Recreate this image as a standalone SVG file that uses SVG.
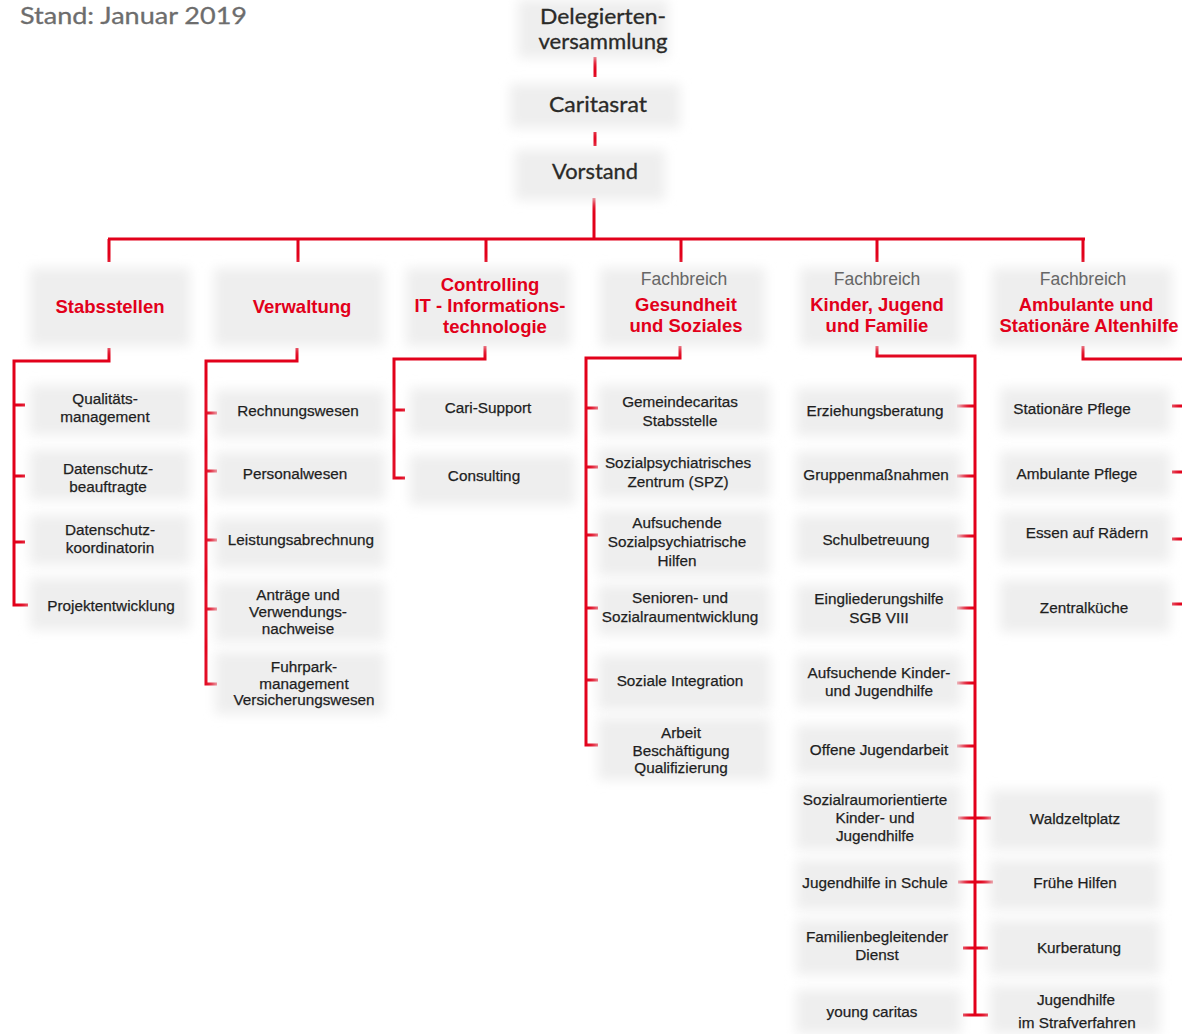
<svg xmlns="http://www.w3.org/2000/svg" width="1182" height="1034" viewBox="0 0 1182 1034">
<defs>
<filter id="blur" x="-20%" y="-40%" width="140%" height="180%"><feGaussianBlur stdDeviation="6"/></filter>
<style>
.bx{fill:#eeeeee;filter:url(#blur)}
.t{font-family:"Liberation Sans",Arial,sans-serif;font-size:15.3px;fill:#1e1e1e;stroke:#1e1e1e;stroke-width:0.25;text-anchor:middle}
.h{font-family:"Liberation Sans",Arial,sans-serif;font-size:18.5px;font-weight:bold;fill:#e2001a;text-anchor:middle}
.f{font-family:"Liberation Sans",Arial,sans-serif;font-size:17.5px;fill:#666;text-anchor:middle}
.top{font-family:Lato,"Open Sans",sans-serif;font-size:21px;fill:#2a2a28;stroke:#2a2a28;stroke-width:0.3;text-anchor:middle}
.ln{fill:none;stroke:#e2001a;stroke-width:3}
</style>
</defs>
<rect width="1182" height="1034" fill="#fff"/>
<text x="20" y="24" font-family="Lato,'Open Sans',sans-serif" font-size="24" fill="#6d6d6d" stroke="#6d6d6d" stroke-width="0.3" textLength="227" lengthAdjust="spacingAndGlyphs">Stand: Januar 2019</text>

<g id="connectors" class="ln">
<path d="M595,57V77M595,132V146M594,198V239M108,239H1085M109,239V262M298,239V262M486,239V262M681,239V262M877,239V262M1083,239V262"/>
<path d="M109,348V361H14V605H28M14,405H25M14,476H25M14,542H25"/>
<path d="M297,348V361H206V684H217M206,413H217M206,471H217M206,540H217M206,609H217"/>
<path d="M485,346V359H394V478H405M394,410H405"/>
<path d="M680,346V358H586V745H598M586,408H598M586,467H598M586,535H598M586,608H598M586,680H598"/>
<path d="M877,346V356H975V1015M957,406H975M957,476H975M957,536H975M957,608H975M957,683H975M957,746H975M958,818H991M958,882H993M963,948H988M963,1015H988"/>
<path d="M1083,346V359H1184M1172,406H1184M1172,472H1184M1172,539H1184M1172,604H1184"/>
</g>

<g id="delegiertenversammlung"><rect class="bx" x="518" y="0" width="150" height="58"/><text class="top" x="603" y="24" textLength="126" lengthAdjust="spacingAndGlyphs">Delegierten-</text><text class="top" x="603" y="49" textLength="129" lengthAdjust="spacingAndGlyphs">versammlung</text></g>
<g id="caritasrat"><rect class="bx" x="510" y="84" width="170" height="44"/><text class="top" x="598" y="112" textLength="98" lengthAdjust="spacingAndGlyphs">Caritasrat</text></g>
<g id="vorstand"><rect class="bx" x="515" y="150" width="150" height="50"/><text class="top" x="595" y="179" textLength="86" lengthAdjust="spacingAndGlyphs">Vorstand</text></g>

<g id="stabsstellen"><rect class="bx" x="30" y="268" width="160" height="78"/><text class="h" x="110" y="313">Stabsstellen</text></g>
<g id="verwaltung"><rect class="bx" x="214" y="268" width="170" height="78"/><text class="h" x="302" y="313">Verwaltung</text></g>
<g id="controlling"><rect class="bx" x="406" y="268" width="165" height="78"/><text class="h" x="490" y="291">Controlling</text><text class="h" x="490" y="312">IT - Informations-</text><text class="h" x="495" y="333">technologie</text></g>
<g id="gesundheit"><rect class="bx" x="600" y="268" width="165" height="78"/><text class="f" x="684" y="285">Fachbreich</text><text class="h" x="686" y="311">Gesundheit</text><text class="h" x="686" y="332">und Soziales</text></g>
<g id="kinder"><rect class="bx" x="800" y="268" width="160" height="78"/><text class="f" x="877" y="285">Fachbreich</text><text class="h" x="877" y="311">Kinder, Jugend</text><text class="h" x="877" y="332">und Familie</text></g>
<g id="altenhilfe"><rect class="bx" x="992" y="268" width="180" height="78"/><text class="f" x="1083" y="285">Fachbreich</text><text class="h" x="1086" y="311">Ambulante und</text><text class="h" x="1089" y="332">Stationäre Altenhilfe</text></g>

<g id="qualitaet"><rect class="bx" x="30" y="385" width="160" height="50"/><text class="t" x="105" y="404">Qualitäts-</text><text class="t" x="105" y="422">management</text></g>
<g id="dsb"><rect class="bx" x="30" y="450" width="160" height="50"/><text class="t" x="108" y="474">Datenschutz-</text><text class="t" x="108" y="492">beauftragte</text></g>
<g id="dsk"><rect class="bx" x="30" y="515" width="160" height="50"/><text class="t" x="110" y="535">Datenschutz-</text><text class="t" x="110" y="553">koordinatorin</text></g>
<g id="projekt"><rect class="bx" x="30" y="578" width="160" height="52"/><text class="t" x="111" y="611">Projektentwicklung</text></g>

<g id="rechnung"><rect class="bx" x="215" y="390" width="170" height="48"/><text class="t" x="298" y="416">Rechnungswesen</text></g>
<g id="personal"><rect class="bx" x="215" y="452" width="170" height="48"/><text class="t" x="295" y="479">Personalwesen</text></g>
<g id="leistung"><rect class="bx" x="215" y="518" width="170" height="50"/><text class="t" x="301" y="545">Leistungsabrechnung</text></g>
<g id="antraege"><rect class="bx" x="215" y="582" width="170" height="60"/><text class="t" x="298" y="600">Anträge und</text><text class="t" x="298" y="617">Verwendungs-</text><text class="t" x="298" y="634">nachweise</text></g>
<g id="fuhrpark"><rect class="bx" x="215" y="652" width="170" height="62"/><text class="t" x="304" y="672">Fuhrpark-</text><text class="t" x="304" y="689">management</text><text class="t" x="304" y="705">Versicherungswesen</text></g>

<g id="cari"><rect class="bx" x="410" y="388" width="165" height="48"/><text class="t" x="488" y="413">Cari-Support</text></g>
<g id="consulting"><rect class="bx" x="410" y="455" width="165" height="50"/><text class="t" x="484" y="481">Consulting</text></g>

<g id="gemeinde"><rect class="bx" x="598" y="385" width="172" height="50"/><text class="t" x="680" y="407">Gemeindecaritas</text><text class="t" x="680" y="426">Stabsstelle</text></g>
<g id="spz"><rect class="bx" x="598" y="448" width="172" height="50"/><text class="t" x="678" y="468">Sozialpsychiatrisches</text><text class="t" x="678" y="487">Zentrum (SPZ)</text></g>
<g id="aufsuchend"><rect class="bx" x="598" y="510" width="172" height="66"/><text class="t" x="677" y="528">Aufsuchende</text><text class="t" x="677" y="547">Sozialpsychiatrische</text><text class="t" x="677" y="566">Hilfen</text></g>
<g id="senioren"><rect class="bx" x="598" y="585" width="172" height="50"/><text class="t" x="680" y="603">Senioren- und</text><text class="t" x="680" y="622">Sozialraumentwicklung</text></g>
<g id="integration"><rect class="bx" x="598" y="655" width="172" height="55"/><text class="t" x="680" y="686">Soziale Integration</text></g>
<g id="arbeit"><rect class="bx" x="598" y="718" width="172" height="62"/><text class="t" x="681" y="738">Arbeit</text><text class="t" x="681" y="756">Beschäftigung</text><text class="t" x="681" y="773">Qualifizierung</text></g>

<g id="erziehung"><rect class="bx" x="796" y="388" width="165" height="48"/><text class="t" x="875" y="416">Erziehungsberatung</text></g>
<g id="gruppen"><rect class="bx" x="796" y="452" width="165" height="48"/><text class="t" x="876" y="480">Gruppenmaßnahmen</text></g>
<g id="schule"><rect class="bx" x="796" y="515" width="165" height="48"/><text class="t" x="876" y="545">Schulbetreuung</text></g>
<g id="eingliederung"><rect class="bx" x="796" y="585" width="165" height="52"/><text class="t" x="879" y="604">Eingliederungshilfe</text><text class="t" x="879" y="623">SGB VIII</text></g>
<g id="aufsuchendkj"><rect class="bx" x="796" y="655" width="165" height="52"/><text class="t" x="879" y="678">Aufsuchende Kinder-</text><text class="t" x="879" y="696">und Jugendhilfe</text></g>
<g id="offene"><rect class="bx" x="796" y="725" width="165" height="50"/><text class="t" x="879" y="755">Offene Jugendarbeit</text></g>
<g id="sozialraum"><rect class="bx" x="796" y="785" width="165" height="65"/><text class="t" x="875" y="805">Sozialraumorientierte</text><text class="t" x="875" y="823">Kinder- und</text><text class="t" x="875" y="841">Jugendhilfe</text></g>
<g id="jugendschule"><rect class="bx" x="796" y="860" width="165" height="50"/><text class="t" x="875" y="888">Jugendhilfe in Schule</text></g>
<g id="familien"><rect class="bx" x="796" y="920" width="165" height="55"/><text class="t" x="877" y="942">Familienbegleitender</text><text class="t" x="877" y="960">Dienst</text></g>
<g id="young"><rect class="bx" x="796" y="990" width="165" height="44"/><text class="t" x="872" y="1017">young caritas</text></g>

<g id="stationaer"><rect class="bx" x="1000" y="388" width="170" height="45"/><text class="t" x="1072" y="414">Stationäre Pflege</text></g>
<g id="ambulant"><rect class="bx" x="1000" y="452" width="170" height="45"/><text class="t" x="1077" y="479">Ambulante Pflege</text></g>
<g id="essen"><rect class="bx" x="1000" y="512" width="170" height="50"/><text class="t" x="1087" y="538">Essen auf Rädern</text></g>
<g id="zentral"><rect class="bx" x="1000" y="580" width="170" height="52"/><text class="t" x="1084" y="613">Zentralküche</text></g>

<g id="waldzelt"><rect class="bx" x="990" y="790" width="170" height="60"/><text class="t" x="1075" y="824">Waldzeltplatz</text></g>
<g id="fruehe"><rect class="bx" x="990" y="860" width="170" height="50"/><text class="t" x="1075" y="888">Frühe Hilfen</text></g>
<g id="kur"><rect class="bx" x="990" y="920" width="170" height="55"/><text class="t" x="1079" y="953">Kurberatung</text></g>
<g id="straf"><rect class="bx" x="990" y="985" width="170" height="49"/><text class="t" x="1076" y="1005">Jugendhilfe</text><text class="t" x="1077" y="1028">im Strafverfahren</text></g>
</svg>
